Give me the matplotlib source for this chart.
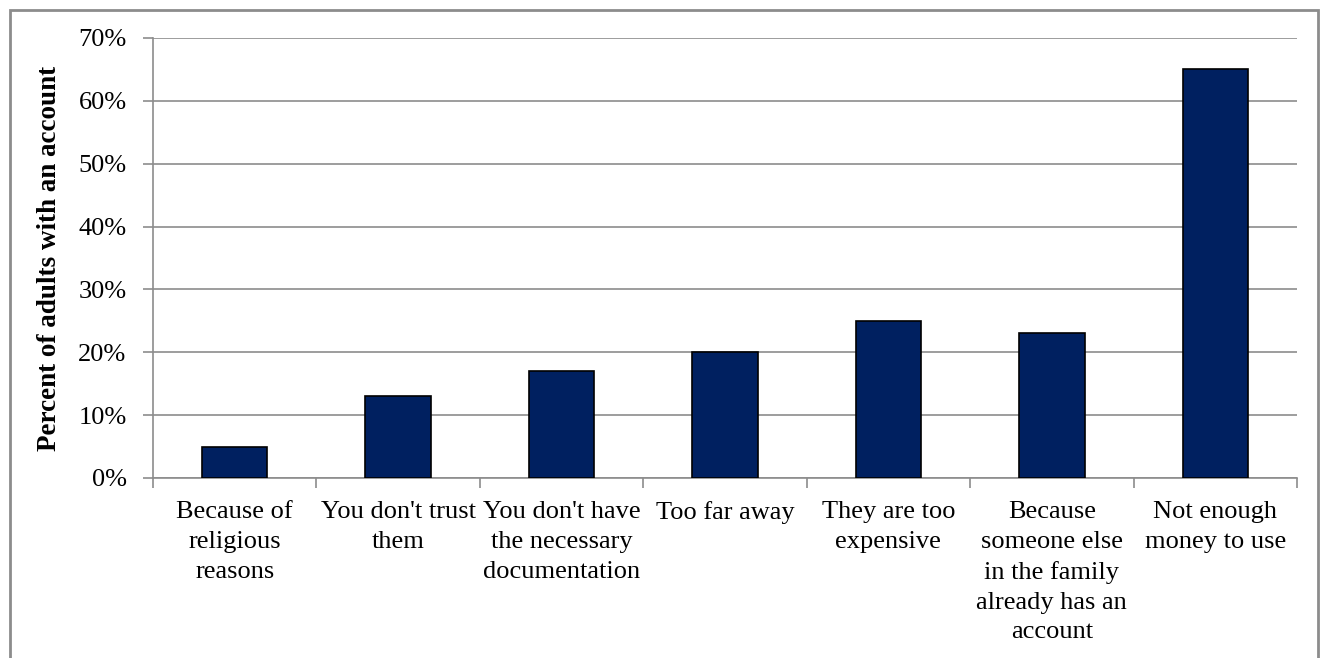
import numpy as np
from matplotlib import pyplot as plt
from matplotlib import patches
from matplotlib.ticker import FuncFormatter, MultipleLocator

categories = ['Because of\nreligious\nreasons',
              "You don't trust\nthem",
              "You don't have\nthe necessary\ndocumentation",
              'Too far away',
              'They are too\nexpensive',
              'Because\nsomeone else\nin the family\nalready has an\naccount',
              'Not enough\nmoney to use']
values = [5, 13, 17, 20, 25, 23, 65]

plt.rcParams['font.family'] = ['Liberation Serif', 'DejaVu Serif']

W, H = 1330, 658
fig = plt.figure(figsize=(W / 100, H / 100), dpi=100)
ax = fig.add_axes([153 / W, 1 - 478 / H, (1297 - 153) / W, (478 - 38) / H])

x = np.arange(len(values))
ax.bar(x, values, width=0.4, color='#002060', edgecolor='black', linewidth=1.2, zorder=3)

ax.set_xlim(-0.5, len(values) - 0.5)
ax.set_ylim(0, 70)
ax.yaxis.set_major_locator(MultipleLocator(10))
ax.yaxis.set_major_formatter(FuncFormatter(lambda v, p: '%d%%' % v))
ax.grid(axis='y', color='#8c8c8c', linewidth=1.2, zorder=0)

for s in ['top', 'right']:
    ax.spines[s].set_visible(False)
for s in ['left', 'bottom']:
    ax.spines[s].set_color('#8c8c8c')
    ax.spines[s].set_linewidth(1.2)

ax.set_xticks(np.arange(len(values) + 1) - 0.5)
ax.set_xticklabels([])
ax.tick_params(axis='x', length=7, color='#8c8c8c', width=1.2)
ax.tick_params(axis='y', length=7, color='#8c8c8c', width=1.2, labelsize=19, pad=12)

for i, lab in enumerate(categories):
    ax.text(i, -3.7, lab, ha='center', va='top', fontsize=19, linespacing=1.45,
            transform=ax.transData)

ax.set_ylabel('Percent of adults with an account', fontsize=19.5, fontweight='bold', labelpad=12)

# outer frame
fig.patches.append(patches.Rectangle((10 / W, -0.1), (1318 - 10) / W, 1.1 - 10 / H,
                                     transform=fig.transFigure, fill=False,
                                     edgecolor='#8c8c8c', linewidth=2, clip_on=False))

fig.savefig('out.png', dpi=100)
